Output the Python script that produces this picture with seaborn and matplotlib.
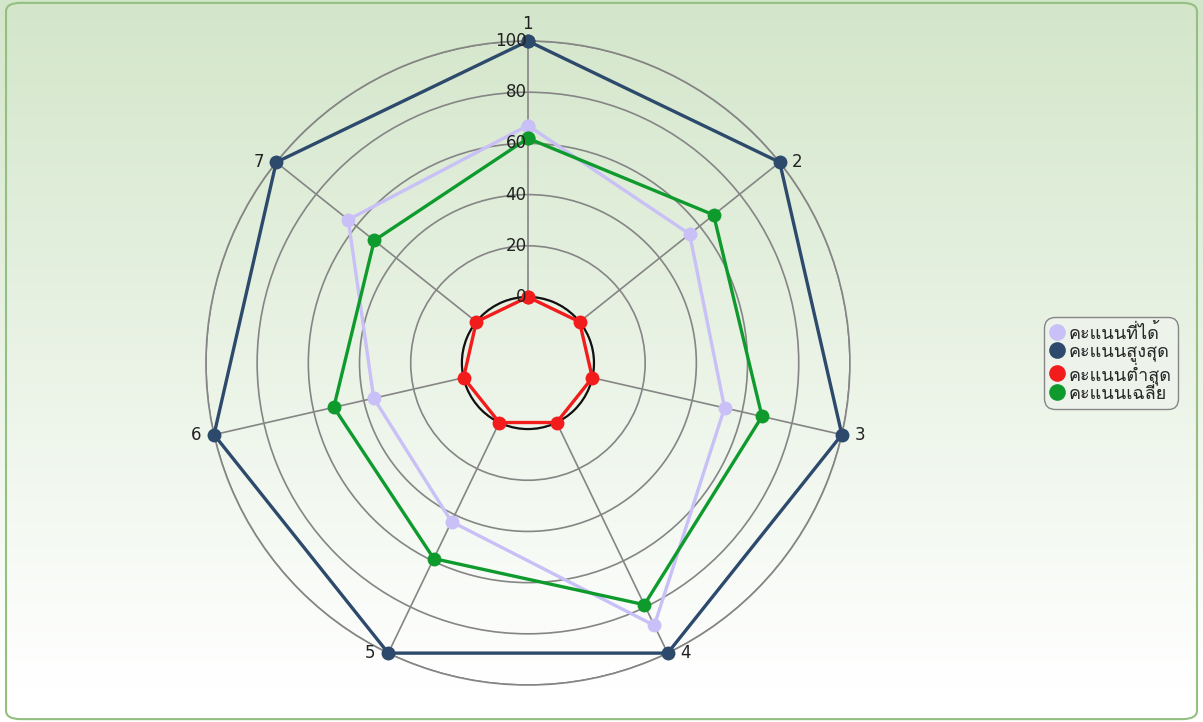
import numpy as np
import pandas as pd
import matplotlib
matplotlib.use("Agg")
import matplotlib.pyplot as plt
from matplotlib import font_manager, ft2font
from matplotlib.lines import Line2D
from matplotlib.patches import FancyBboxPatch
import seaborn as sns

# data
categories = ["1", "2", "3", "4", "5", "6", "7"]
score = [67, 55, 53, 88, 43, 36, 64]        # คะแนนที่ได้
score_max = [100, 100, 100, 100, 100, 100, 100]
score_min = [0, 0, 0, 0, 0, 0, 0]
score_avg = [62, 67, 68, 79, 59, 52, 51]
series_names = ["คะแนนที่ได้", "คะแนนสูงสุด", "คะแนนต่ำสุด", "คะแนนเฉลี่ย"]
series_colors = ["#c8c0f6", "#2d4a6c", "#f21c1c", "#0f9a2e"]
r_ticks = [0, 20, 40, 60, 80, 100]


def find_thai_font():
    """Look for an installed family that has Thai glyphs."""
    for f in font_manager.fontManager.ttflist:
        try:
            cmap = ft2font.FT2Font(f.fname).get_charmap()
        except Exception:
            continue
        if 0x0E04 in cmap and 0x0E30 in cmap:
            return f.name
    return None


sns.set_theme(style="white")
thai = find_thai_font()
fams = ["DejaVu Sans"] if thai is None else [thai, "DejaVu Sans"]
plt.rcParams["font.family"] = ["DejaVu Sans"]

fig = plt.figure(figsize=(12.03, 7.22), dpi=100)

# background gradient + rounded frame
bg = fig.add_axes([0, 0, 1, 1], zorder=-10)
grad = np.linspace(0, 1, 256).reshape(-1, 1)
top = np.array([0.827, 0.902, 0.792])
bot = np.array([1.0, 1.0, 1.0])
img = top + (bot - top) * np.clip(grad * 1.05, 0, 1)[..., None] * np.ones(3)
bg.imshow(img.reshape(256, 1, 3), aspect="auto", extent=[0, 1, 0, 1])
bg.set_xlim(0, 1)
bg.set_ylim(0, 1)
bg.axis("off")
frame = FancyBboxPatch((0.005, 0.004), 0.99, 0.992, boxstyle="round,pad=0,rounding_size=0.012",
                       transform=fig.transFigure, fill=False, edgecolor="#93c081", linewidth=1.5)
fig.patches.append(frame)

# radar axes
ax = fig.add_axes([0.1712, 0.0512, 0.5353, 0.892], projection="polar")
ax.set_facecolor("none")
ax.set_theta_zero_location("N")
ax.set_theta_direction(-1)
ax.set_ylim(0, 100)
ax.set_rorigin(-25.8)

n = len(categories)
theta = np.arange(n) * 2 * np.pi / n

rows = []
for name, vals in zip(series_names, [score, score_max, score_min, score_avg]):
    for i in range(n + 1):
        rows.append({"series": name, "theta": theta[i % n] if i < n else 2 * np.pi,
                     "value": vals[i % n], "order": i})
df = pd.DataFrame(rows)

draw_order = [series_names[1], series_names[0], series_names[3], series_names[2]]
palette = dict(zip(series_names, series_colors))
for name in draw_order:
    sub = df[df["series"] == name]
    sns.lineplot(data=sub, x="theta", y="value", color=palette[name], marker="o",
                 markersize=10, markeredgewidth=0, linewidth=2.4, sort=False,
                 estimator=None, ax=ax, legend=False)
for line in ax.lines:
    line.set_clip_on(False)
    line.set_zorder(5)

# grid
ax.set_xticks(theta)
ax.set_xticklabels([])
ax.set_yticks(r_ticks)
ax.set_yticklabels([])
ax.grid(True, color="#858585", linewidth=1.2)
ax.spines["polar"].set_color("#858585")
ax.spines["polar"].set_linewidth(1.2)
ax.spines["inner"].set_color("#111111")
ax.spines["inner"].set_linewidth(1.6)
ax.set_xlabel("")
ax.set_ylabel("")

for v in r_ticks:
    ax.annotate(str(v), (0, v), xytext=(-1, 0), textcoords="offset points",
                ha="right", va="center", fontsize=12, color="#222222", zorder=6)

# category labels placed beside the 100 point
for t, lab in zip(theta, categories):
    s = np.sin(t)
    if abs(s) < 0.1:
        off, ha, va = (0, 6), "center", "bottom"
    elif s > 0:
        off, ha, va = (9, 0), "left", "center"
    else:
        off, ha, va = (-9, 0), "right", "center"
    ax.annotate(lab, (t, 100), xytext=off, textcoords="offset points",
                ha=ha, va=va, fontsize=12, color="#222222", annotation_clip=False)

handles = [Line2D([], [], marker="o", linestyle="none", markersize=12,
                  markerfacecolor=c, markeredgewidth=0) for c in series_colors]
leg = fig.legend(handles, series_names, loc="center", bbox_to_anchor=(0.9236, 0.497),
                 bbox_transform=fig.transFigure, frameon=True, fancybox=True,
                 handlelength=0.8, handletextpad=0.25, labelspacing=0.0, borderpad=0.35,
                 borderaxespad=0, prop={"family": fams, "size": 13})
frm = leg.get_frame()
frm.set_edgecolor("#7a7a7a")
frm.set_facecolor("#eef3ec")
frm.set_alpha(0.9)
frm.set_boxstyle("round,pad=0,rounding_size=0.6")

fig.savefig("out.png", dpi=100)
